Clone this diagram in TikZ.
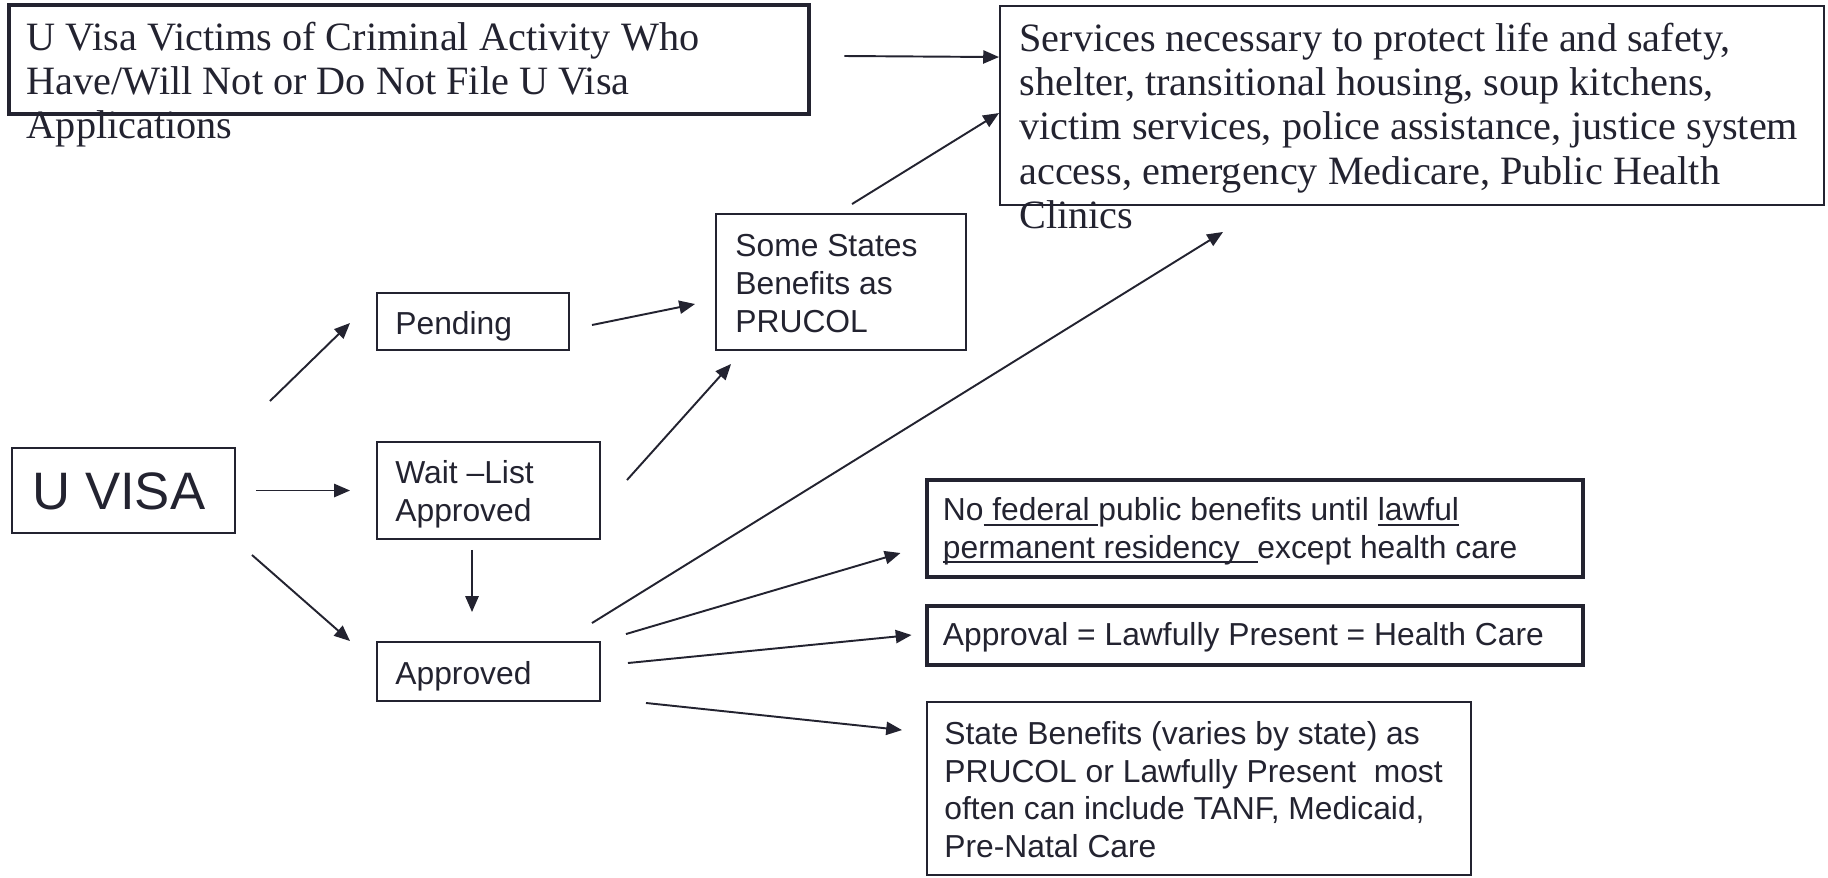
\documentclass[tikz,border=0pt]{standalone}
\usepackage{fontspec}
\setmainfont{Liberation Serif}
\setsansfont{Liberation Sans}
\usetikzlibrary{arrows.meta,calc,fit}

\definecolor{ink}{RGB}{35,35,48}

% underline as in the slide: a little below the baseline, over descenders
\newcommand\ulin[1]{{\setbox0\hbox{#1}\rlap{\rule[-2.6pt]{\wd0}{1.1pt}}\box0}}

\begin{document}
\begin{tikzpicture}[x=0.02cm,y=-0.02cm,
	>={Triangle[length=9pt,width=7.5pt]},
	thinbox/.style={draw=ink,line width=1.1pt,inner sep=0pt},
	thickbox/.style={draw=ink,line width=2.8pt,inner sep=0pt},
	sanstext/.style={anchor=north west,inner sep=0pt,align=left,text=ink,
		font=\sffamily\fontsize{18.1}{21.5}\selectfont},
	seriftext/.style={anchor=north west,inner sep=0pt,align=left,text=ink,
		font=\rmfamily\fontsize{22.9}{25.1}\selectfont},
	link/.style={->,draw=ink,line width=1.1pt}
	]
	
	\useasboundingbox (0,0) rectangle (1828,877);
	
	% The boxes
	\node [thickbox, fit={(9,5) (809,114)}] (vict) {};
	\node [thinbox, fit={(1000,6) (1824,205)}] (serv) {};
	\node [thinbox, fit={(716,214) (966,350)}] (some) {};
	\node [thinbox, fit={(377,293) (569,350)}] (pend) {};
	\node [thinbox, fit={(12,448) (235,533)}] (uvisa) {};
	\node [thinbox, fit={(377,442) (600,539)}] (wait) {};
	\node [thinbox, fit={(377,642) (600,701)}] (appr) {};
	\node [thickbox, fit={(927,480) (1583,577)}] (nofed) {};
	\node [thickbox, fit={(927,606) (1583,665)}] (lawful) {};
	\node [thinbox, fit={(927,702) (1471,875)}] (state) {};
	
	% The texts, some of them run out of their box
	\node [seriftext] (victtxt) at ($(vict.north west)+(20,19)$)
	      {U Visa Victims of Criminal Activity Who\\Have/Will Not or Do Not File U Visa\\Applications};
	\node [seriftext] (servtxt) at ($(serv.north west)+(20,18)$)
	      {Services necessary to protect life and safety,\\shelter, transitional housing, soup kitchens,\\
	       victim services, police assistance, justice system\\access, emergency Medicare, Public Health\\Clinics};
	\node [sanstext] (sometxt) at ($(some.north west)+(20,21)$) {Some States\\Benefits as\\PRUCOL};
	\node [sanstext] (pendtxt) at ($(pend.north west)+(19,19)$) {Pending};
	\node [sanstext,font=\sffamily\fontsize{30}{36}\selectfont] (uvisatxt)
	      at ($(uvisa.north west)+(21,25)$) {U VISA};
	\node [sanstext] (waittxt) at ($(wait.north west)+(19,19)$) {Wait --List\\Approved};
	\node [sanstext] (apprtxt) at ($(appr.north west)+(19,20)$) {Approved};
	\node [sanstext] (nofedtxt) at ($(nofed.north west)+(18,20)$)
	      {No\ulin{ federal }public benefits until \ulin{lawful}\\\ulin{permanent residency\ \ }except health care};
	\node [sanstext] (lawfultxt) at ($(lawful.north west)+(18,19)$) {Approval = Lawfully Present = Health Care};
	\node [sanstext] (statetxt) at ($(state.north west)+(18,20)$)
	      {State Benefits (varies by state) as\\PRUCOL or Lawfully Present\ \ most\\often can include TANF, Medicaid,\\Pre-Natal Care};
	
	% Links out of U VISA
	\draw [link] ($(uvisa.north east)+(34,-46)$) -- ($(pend.west)+(-26,1.5)$);
	\draw [link] ($(uvisa.east)+(20,0)$) -- ($(wait.west)+(-26,0)$);
	\draw [link] ($(uvisa.south east)+(16,21)$) -- ($(appr.north west)+(-26,0)$);
	
	% Links in the middle
	\draw [link] ($(wait.south)+(-16.5,10)$) -- ($(appr.north)+(-16.5,-29)$);
	\draw [link] ($(pend.east)+(22,3.5)$) -- ($(some.west)+(-20,22)$);
	\draw [link] ($(wait.east)+(26,-10.5)$) -- ($(some.south west)+(16,13)$);
	\draw [link] ($(some.north)+(11,-9)$) -- ($(serv.north west)+(0,108)$);
	\draw [link] ($(vict.east)+(33,-3.5)$) -- ($(serv.north west)+(0,52)$);
	
	% Links out of Approved
	\draw [link] ($(appr.north east)+(-9,-18)$) -- ($(serv.south west)+(224,26)$);
	\draw [link] ($(appr.north east)+(25,-7)$) -- ($(nofed.west)+(-24,24.5)$);
	\draw [link] ($(appr.east)+(27,-8.5)$) -- ($(lawful.west)+(-13,-0.5)$);
	\draw [link] ($(appr.south east)+(45,1)$) -- ($(state.north west)+(-24,29)$);
	
\end{tikzpicture}
\end{document}
